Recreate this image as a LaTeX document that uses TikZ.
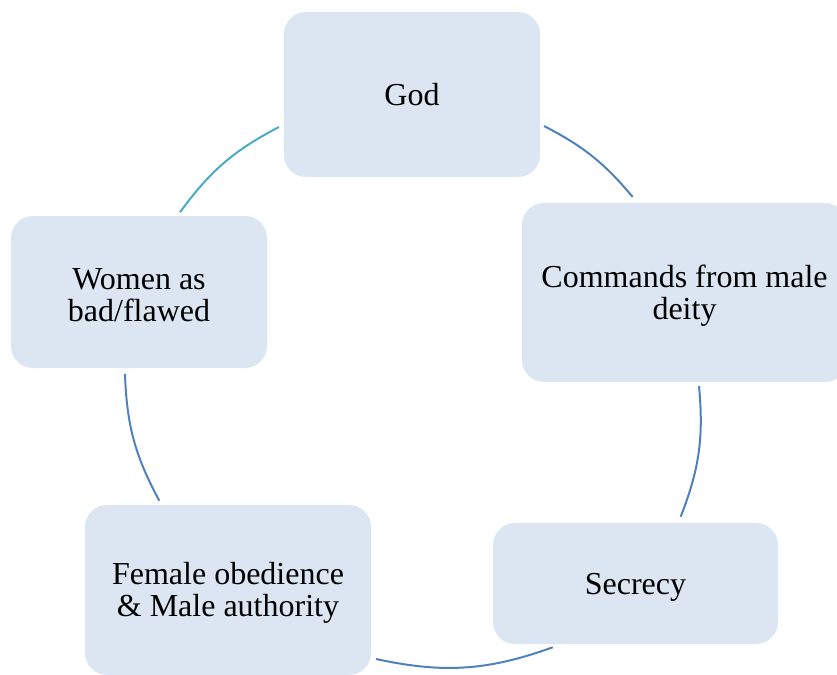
\documentclass[tikz,border=0pt]{standalone}
\usepackage{fontspec}
\setmainfont{Liberation Serif}
\usetikzlibrary{positioning}
\definecolor{boxfill}{HTML}{DCE6F2}
\definecolor{arcblue}{HTML}{4F81BD}
\definecolor{arcteal}{HTML}{4BACC6}
\newcommand{\padtop}{\rule{0pt}{14pt}}

\begin{document}
\begin{tikzpicture}[x=0.5pt,y=-0.5pt,
    stage/.style={rectangle, rounded corners=11pt, fill=boxfill, align=center,
      inner sep=0pt, font=\fontsize{16}{16}\selectfont},
    link/.style={draw=arcblue, line width=1pt}]
  \useasboundingbox (0,0) rectangle (837,675);

  % the five stages of the cycle
  \node[stage, minimum width=128pt, minimum height=82.5pt] (god) at (412,94.5) {God};
  \node[stage, minimum width=162.5pt, minimum height=89.5pt] (cmd) at (684.5,292.5) {\padtop Commands from male\\deity};
  \node[stage, minimum width=142.5pt, minimum height=60.5pt] (secrecy) at (635.5,583.5) {\padtop Secrecy};
  \node[stage, minimum width=143pt, minimum height=85pt] (female) at (228,590) {\padtop Female obedience\\\& Male authority};
  \node[stage, minimum width=128pt, minimum height=76pt] (women) at (139,292) {\padtop Women as\\bad/flawed};

  % arc ends
  \coordinate (a1) at (544,126);
  \coordinate (b1) at (632.7,197);
  \coordinate (a2) at (699,386);
  \coordinate (b2) at (680.7,516.7);
  \coordinate (a3) at (552.7,647.3);
  \coordinate (b3) at (376,659);
  \coordinate (a4) at (159.3,500.7);
  \coordinate (b4) at (125,374);
  \coordinate (a5) at (180,212.3);
  \coordinate (b5) at (279,127);

  \draw[link] (a1) to[bend left=11.4] (b1);
  \draw[link] (a2) to[bend left=13.3] (b2);
  \draw[link] (a3) to[bend left=16] (b3);
  \draw[link] (a4) to[bend left=13.2] (b4);
  \draw[link, draw=arcteal] (a5) to[bend left=13.2] (b5);
\end{tikzpicture}
\end{document}
